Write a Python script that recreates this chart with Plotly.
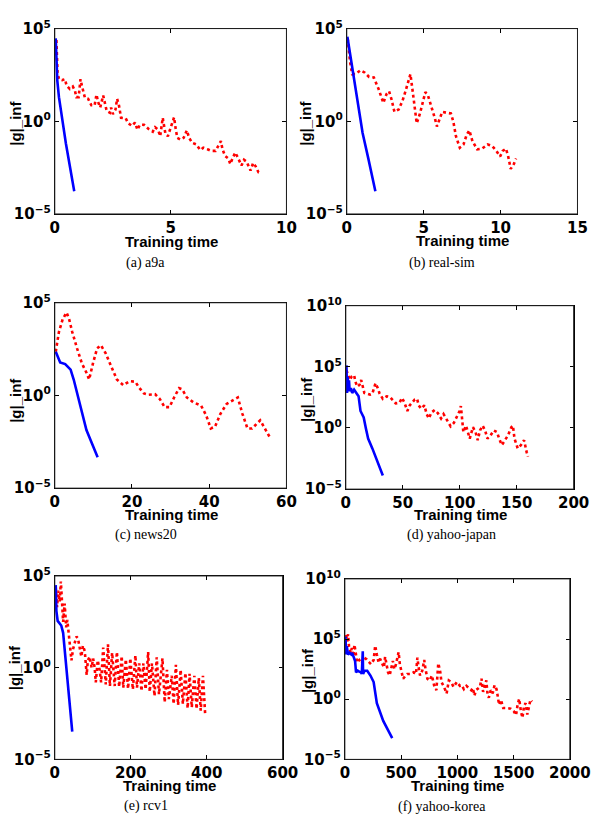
import plotly.graph_objects as go

FIG_W, FIG_H = 609, 825

# ---------------- data (training time, log10 of |g|_inf) ----------------
# (a) a9a
a9a_solid_t = [0.04, 0.07, 0.11, 0.18, 0.48, 0.84]
a9a_solid_lg = [4.47, 3.24, 2.18, 1.30, -1.20, -3.77]
a9a_dot_t = [0.07, 0.10, 0.12, 0.18, 0.32, 0.44, 0.51, 0.65, 0.78, 0.87,
             0.93, 1.03, 1.11, 1.17, 1.24, 1.30, 1.44, 1.58, 1.72, 1.80,
             1.87, 1.96, 2.09, 2.16, 2.24, 2.38, 2.43, 2.51, 2.62, 2.69,
             2.77, 2.86, 3.06, 3.17, 3.34, 3.46, 3.57, 3.67, 3.85, 4.05,
             4.23, 4.33, 4.46, 4.55, 4.66, 4.71, 4.77, 4.88, 4.99, 5.08,
             5.15, 5.22, 5.29, 5.43, 5.56, 5.70, 5.80, 5.93, 6.11, 6.28,
             6.41, 6.59, 6.76, 6.94, 7.05, 7.17, 7.24, 7.35, 7.49, 7.58,
             7.66, 7.79, 7.90, 8.06, 8.17, 8.28, 8.45, 8.56, 8.67, 8.79,
             8.89]
a9a_dot_lg = [4.38, 3.42, 2.62, 2.27, 2.22, 2.27, 1.92, 1.74, 1.87, 1.65,
              1.30, 1.30, 2.27, 1.92, 1.57, 1.27, 1.21, 0.86, 0.86, 1.44,
              1.04, 0.74, 1.39, 0.95, 0.56, 0.46, 0.74, 0.39, 0.63, 1.21,
              0.86, 0.19, 0.16, -0.11, -0.25, -0.07, -0.46, -0.19, -0.19, -0.42,
              -0.56, -0.32, -0.46, -0.81, 0.19, -0.19, -0.63, -0.81, -0.42, -0.11,
              0.21, -0.42, -0.90, -0.99, -0.90, -0.49, -0.90, -1.16, -1.25, -1.55,
              -1.43, -1.51, -1.60, -1.60, -1.37, -1.07, -1.51, -1.87, -2.01, -2.31,
              -2.04, -1.69, -1.95, -2.39, -2.08, -2.18, -2.66, -2.25, -2.43, -2.75,
              -2.78]

# (b) real-sim
realsim_solid_t = [0.04, 0.50, 1.03, 1.40, 1.86]
realsim_solid_lg = [4.56, 2.15, -0.63, -2.0, -3.77]
realsim_dot_t = [0.06, 0.21, 0.35, 0.56, 0.89, 1.18, 1.45, 1.76, 2.07, 2.38,
                 2.59, 2.75, 2.90, 3.10, 3.37, 3.62, 3.83, 4.14, 4.28, 4.41,
                 4.55, 4.76, 4.97, 5.11, 5.28, 5.48, 5.73, 5.86, 6.00, 6.21,
                 6.48, 6.77, 6.93, 7.10, 7.35, 7.59, 7.80, 7.97, 8.17, 8.48,
                 8.79, 9.16, 9.46, 9.73, 9.97, 10.14, 10.35, 10.49, 10.66, 10.86,
                 11.01]
realsim_dot_lg = [4.47, 3.24, 2.54, 2.54, 2.75, 2.62, 2.39, 2.36, 1.74, 0.99,
                  1.48, 1.62, 1.21, 0.51, 0.63, 1.09, 1.65, 2.54, 1.65, 0.77,
                  -0.11, 0.42, 1.16, 1.57, 1.39, 0.86, 0.16, -0.28, 0.07, 0.51,
                  0.46, 0.42, -0.02, -0.81, -1.43, -1.25, -0.72, -0.49, -1.07, -1.51,
                  -1.48, -1.25, -1.34, -1.60, -1.90, -1.60, -1.48, -1.87, -2.57, -2.31,
                  -2.01]

# (c) news20
news20_solid_t = [0.25, 1.4, 2.7, 4.1, 4.9, 6.2, 7.4, 8.2, 11.1]
news20_solid_lg = [2.36, 1.78, 1.69, 1.39, 0.86, -0.28, -1.30, -1.87, -3.33]
news20_dot_t = [0.25, 1.07, 2.06, 3.05, 3.71, 4.53, 5.77, 7.0, 8.24, 8.9,
                9.9, 10.96, 11.95, 13.19, 14.43, 16.08, 17.73, 19.37, 20.86, 21.85,
                23.08, 24.32, 25.97, 27.2, 28.45, 29.7, 30.9, 32.2, 33.0, 34.2,
                35.9, 37.9, 39.2, 40.4, 41.5, 42.9, 44.5, 46.2, 47.4, 48.6,
                49.9, 51.1, 52.3, 53.2, 54.4, 55.6]
news20_dot_lg = [2.36, 3.42, 4.12, 4.47, 4.12, 3.42, 2.54, 1.74, 1.21, 0.86,
                 1.74, 2.54, 2.71, 2.27, 1.65, 0.86, 0.56, 0.77, 0.74, 0.42,
                 0.11, 0.04, 0.07, -0.19, -0.63, -0.63, -0.11, 0.39, 0.33, -0.11,
                 -0.37, -0.55, -1.07, -1.78, -1.69, -0.99, -0.46, -0.25, -0.11, -0.99,
                 -1.78, -1.78, -1.51, -1.34, -1.78, -2.22]

# (d) yahoo-japan
yjapan_solid_t = [0.56, 1.1, 1.7, 2.2, 2.8, 3.4, 4.5, 5.6, 7.3, 9.3,
                  11.2, 12.9, 15.7, 17.7, 19.6, 23.3, 26.1, 28.9, 32.5]
yjapan_solid_lg = [5.12, 2.86, 4.19, 3.0, 3.9, 3.0, 3.26, 2.86, 3.13, 2.9,
                   2.6, 1.39, 0.86, -0.07, -0.87, -1.67, -2.34, -3.14, -3.88]
yjapan_dot_t = [0.56, 2.2, 3.6, 5.0, 7.3, 8.4, 10.1, 12.1, 13.5, 14.9,
                16.3, 18.5, 21.3, 23.3, 26.1, 28.1, 29.7, 32.5, 35.9, 38.7,
                41.0, 43.8, 47.1, 49.4, 51.5, 54.1, 56.1, 58.3, 60.6, 62.6,
                64.0, 66.2, 69.0, 71.0, 72.9, 75.2, 78.0, 80.8, 83.6, 85.8,
                88.6, 92.0, 94.8, 97.6, 99.9, 101.0, 101.8, 103.2, 105.5, 107.4,
                108.8, 111.6, 113.9, 115.8, 117.8, 120.1, 122.3, 124.3, 127.1, 129.9,
                132.7, 134.6, 136.9, 139.7, 142.4, 145.3, 146.7, 148.1, 150.9, 153.7,
                156.5, 158.8, 159.9]
yjapan_dot_lg = [4.72, 4.19, 3.92, 4.19, 4.32, 3.79, 3.39, 3.53, 3.92, 3.39,
                 2.86, 2.81, 2.73, 2.81, 3.66, 3.26, 2.81, 2.38, 2.59, 2.54,
                 2.33, 2.01, 2.06, 2.46, 2.06, 1.39, 1.85, 2.06, 2.33, 2.38,
                 1.85, 1.58, 1.85, 1.13, 0.78, 1.26, 1.47, 1.21, 0.78, 1.13,
                 0.73, 0.14, 0.41, 0.99, 1.39, 1.79, 0.86, -0.34, 0.19, -0.47,
                 -0.87, 0.06, -0.34, -1.0, -0.2, 0.19, -0.2, -0.87, -0.6, -0.2,
                 -0.34, -0.87, -1.4, -1.0, -0.6, 0.06, 0.19, -0.87, -1.67, -1.4,
                 -1.0, -1.99, -2.34]

# (e) rcv1
rcv1_solid_t = [2.5, 4.2, 7.6, 17, 22, 25, 33, 46]
rcv1_solid_lg = [4.5, 3.1, 2.55, 2.3, 1.9, 1.2, -0.7, -3.49]
rcv1_dot_t = [2.5, 6, 9, 13, 16, 19, 22, 26, 30, 33,
              36, 40, 44, 48, 53, 57, 61, 66, 70, 74,
              79, 84, 87, 92, 97, 101, 105, 108, 113, 118,
              122, 127.5, 134.3, 140.1, 145.2, 151.0, 157.8, 163.6, 169.5, 176.2,
              180.4, 187.1, 193.0, 198.9, 205.6, 212.3, 216.5, 222.4, 228.3, 233.3,
              239.2, 245.9, 250.1, 255.9, 262.6, 268.5, 274.4, 283.6, 289.5, 295.4,
              300.4, 308.0, 313.0, 318.9, 324.7, 331.5, 337.3, 344.0, 349.9, 354.9,
              360.8, 367.5, 373.4, 379.3, 384.3, 390.2, 396.1]
rcv1_dot_lg = [4.4, 3.3, 4.2, 3.6, 4.7, 3.3, 2.5, 3.5, 2.2, 2.6,
               2.0, 1.0, 0.4, 1.0, 1.5, 1.7, 1.6, 1.1, 0.6, 1.2,
               0.9, -0.4, 0.4, 0.6, 0.0, 0.5, 0.0, -0.8, 0.4, -0.1,
               -0.8, 1.09, -0.91, 1.27, -1.0, 0.81, -1.0, 0.86, -1.04, 0.63,
               -1.09, 0.45, -1.15, 0.51, -1.18, 0.68, -1.09, 0.24, -1.27, 0.24,
               -1.18, 0.86, -1.32, 0.24, -1.54, 0.56, -1.45, 0.51, -1.89, -0.12,
               -1.71, -0.44, -1.98, 0.15, -2.03, -0.12, -1.98, -0.29, -2.21, -0.33,
               -2.16, -0.44, -2.25, -0.56, -2.34, -0.44, -2.57]

# (f) yahoo-korea
ykorea_solid_t = [5.7, 11.4, 17, 28.4, 42.7, 56.9, 65.4, 79.7, 91, 99.6,
                  113.8, 128, 142, 150.8, 159.3, 162, 176, 199, 227.6, 256,
                  284.5, 341.4, 421]
ykorea_solid_lg = [5.2, 3.72, 4.4, 3.72, 3.85, 3.72, 3.85, 3.45, 3.18, 2.24,
                   2.37, 2.29, 2.24, 2.1, 3.99, 2.1, 2.37, 2.37, 1.97, 1.43,
                   -0.32, -1.8, -3.23]
ykorea_dot_t = [11.4, 22.8, 28.4, 37, 51.2, 62.6, 74, 85.3, 97, 108,
                128, 148, 171, 193, 213, 233, 256, 270, 284.5, 299,
                313, 327, 347, 358, 370, 384, 398, 413, 427, 441,
                455, 469, 478, 489, 503.6, 518, 535, 555, 583, 612,
                632, 645, 654, 668.6, 688.5, 705.5, 717, 734, 754, 774,
                797, 813.7, 830.7, 847.8, 859, 882, 904.7, 924.6, 944.5, 967,
                995.7, 1024, 1038, 1058, 1081, 1104, 1124, 1138, 1152, 1166,
                1189, 1200.6, 1215, 1229, 1246, 1257.5, 1269, 1280, 1297, 1314,
                1331, 1348.5, 1360, 1371, 1388, 1408, 1437, 1474, 1502, 1522,
                1536, 1550, 1565, 1579, 1593, 1607, 1622, 1636, 1650, 1664]
ykorea_dot_lg = [5.34, 4.80, 5.42, 4.39, 3.85, 4.26, 3.58, 4.53, 3.85, 3.05,
                 3.26, 2.99, 3.45, 3.32, 3.10, 2.91, 3.26, 4.45, 3.72, 3.10,
                 3.37, 3.05, 2.64, 3.53, 3.05, 2.24, 1.97, 2.72, 3.18, 2.51,
                 2.91, 3.53, 3.91, 2.91, 2.24, 1.70, 1.91, 2.10, 2.10, 2.24,
                 2.10, 3.45, 2.78, 1.97, 2.37, 3.26, 2.51, 1.70, 1.56, 1.97,
                 1.02, 0.75, 2.99, 2.29, 1.43, 1.02, 0.48, 1.56, 1.43, 1.02,
                 1.43, 1.11, 1.16, 0.84, 1.11, 0.89, 0.75, 0.94, 0.30, 0.75,
                 0.94, 1.02, 1.70, 0.62, 1.16, 1.56, 0.40, 0.13, 0.75, 0.48,
                 1.16, 0.84, 0.21, -0.46, -0.05, -0.73, -0.73, -0.78, -1.00, -1.32,
                 -0.46, 0.03, -1.0, -1.54, -0.59, -0.32, -1.27, -0.78, -0.05, -0.19]

captions = ["(a) a9a", "(b) real-sim", "(c) news20",
            "(d) yahoo-japan", "(e) rcv1", "(f) yahoo-korea"]
x_tick_vals = [[0, 5, 10], [0, 5, 10, 15], [0, 20, 40, 60],
               [0, 50, 100, 150, 200], [0, 200, 400, 600],
               [0, 500, 1000, 1500, 2000]]
y_exp_short = [-5, 0, 5]
y_exp_long = [-5, 0, 5, 10]

# ---------------- layout (pixels) ----------------
panels = [
    dict(data=(a9a_solid_t, a9a_solid_lg, a9a_dot_t, a9a_dot_lg),
         box=(52, 294, 18, 208), xr=[0, 10], ye=y_exp_short,
         cap=(147, 258), xl=(174, 236), yl=(11, 115)),
    dict(data=(realsim_solid_t, realsim_solid_lg, realsim_dot_t, realsim_dot_lg),
         box=(357, 598, 18, 208), xr=[0, 15], ye=y_exp_short,
         cap=(456, 258), xl=(478, 235), yl=(314, 115)),
    dict(data=(news20_solid_t, news20_solid_lg, news20_dot_t, news20_dot_lg),
         box=(52, 294, 299, 489), xr=[0, 60], ye=y_exp_short,
         cap=(147, 537), xl=(174, 516), yl=(11, 399)),
    dict(data=(yjapan_solid_t, yjapan_solid_lg, yjapan_dot_t, yjapan_dot_lg),
         box=(356, 594, 302, 490), xr=[0, 200], ye=y_exp_long,
         cap=(466, 537), xl=(476, 516), yl=(315, 398)),
    dict(data=(rcv1_solid_t, rcv1_solid_lg, rcv1_dot_t, rcv1_dot_lg),
         box=(52, 290, 579, 767), xr=[0, 600], ye=y_exp_short,
         cap=(147, 815), xl=(172, 794), yl=(10, 673)),
    dict(data=(ykorea_solid_t, ykorea_solid_lg, ykorea_dot_t, ykorea_dot_lg),
         box=(355, 590, 582, 767), xr=[0, 2000], ye=y_exp_long,
         cap=(457, 816), xl=(473, 794), yl=(316, 676)),
]

TICK_FONT = dict(family="DejaVu Sans", size=15, color="black", weight="bold")
TITLE_FONT = dict(family="Liberation Sans", size=15, color="black")
CAP_FONT = dict(family="Liberation Serif", size=14, color="black")


def px(x):
    return x / FIG_W


def py(y):
    return 1 - y / FIG_H


def sup_label(e):
    s = str(e).replace("-", "\u2212")
    return "10<sup>" + s + "</sup>"


fig = go.Figure()
annotations = []
shapes = []
for i, p in enumerate(panels):
    n = "" if i == 0 else str(i + 1)
    st, slg, dt, dlg = p["data"]
    assert len(st) == len(slg) and len(dt) == len(dlg)
    xa, ya = "x" + n, "y" + n
    fig.add_trace(go.Scatter(x=dt, y=[10 ** v for v in dlg], mode="lines",
                             line=dict(color="#ff0000", width=2.6, dash="3px,3px"),
                             xaxis=xa, yaxis=ya, showlegend=False))
    fig.add_trace(go.Scatter(x=st, y=[10 ** v for v in slg], mode="lines",
                             line=dict(color="#0000ff", width=2.6),
                             xaxis=xa, yaxis=ya, showlegend=False))
    l, r, t, b = p["box"]
    common = dict(showline=True, linecolor="black", linewidth=1, mirror="ticks",
                  ticks="inside", ticklen=4, tickcolor="black", tickwidth=1,
                  showgrid=False, zeroline=False, tickfont=TICK_FONT)
    fig.update_layout(**{
        "xaxis" + n: dict(domain=[px(l), px(r)], range=p["xr"], anchor=ya,
                          tickmode="array", tickvals=x_tick_vals[i],
                          ticktext=[str(v) for v in x_tick_vals[i]], **common),
        "yaxis" + n: dict(domain=[py(b), py(t)], type="log",
                          range=[p["ye"][0], p["ye"][-1]], anchor=xa,
                          tickmode="array", tickvals=[10 ** e for e in p["ye"]],
                          ticktext=[sup_label(e) for e in p["ye"]], **common),
    })
    # frame around the axes area
    shapes.append(dict(type="rect", xref=xa + " domain", yref=ya + " domain",
                       x0=0, x1=1, y0=0, y1=1, layer="above",
                       line=dict(color="#222222", width=1)))
    cx, cy = p["cap"]
    annotations.append(dict(text=captions[i], x=px(cx), y=py(cy), xref="paper",
                            yref="paper", showarrow=False, xanchor="center",
                            yanchor="middle", font=CAP_FONT))
    cx, cy = p["xl"]
    annotations.append(dict(text="<b>Training time</b>", x=px(cx), y=py(cy),
                            xref="paper", yref="paper", showarrow=False,
                            xanchor="center", yanchor="middle", font=TITLE_FONT))
    cx, cy = p["yl"]
    annotations.append(dict(text="<b>|g|_inf</b>", x=px(cx), y=py(cy),
                            xref="paper", yref="paper", showarrow=False,
                            xanchor="center", yanchor="middle", textangle=-90,
                            font=TITLE_FONT))

fig.update_layout(width=FIG_W, height=FIG_H, autosize=False,
                  margin=dict(l=0, r=0, t=0, b=0),
                  paper_bgcolor="white", plot_bgcolor="white",
                  annotations=annotations, shapes=shapes)

fig.write_html("out.html")
